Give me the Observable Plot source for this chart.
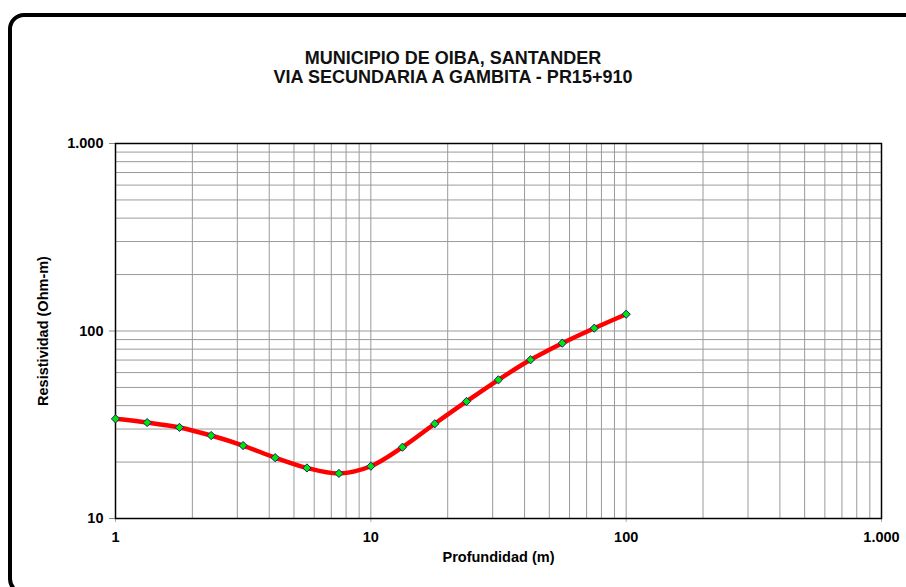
<!DOCTYPE html>
<html><head><meta charset="utf-8">
<script src="https://cdn.jsdelivr.net/npm/d3@7"></script>
<script src="https://cdn.jsdelivr.net/npm/@observablehq/plot@0.6"></script>
<style>
html,body{margin:0;padding:0;background:#fff;}
#wrap{position:relative;width:906px;height:587px;overflow:hidden;font-family:"Liberation Sans",Arial,sans-serif;}
#border{position:absolute;left:8px;top:13px;width:940px;height:582px;border:4px solid #000;border-radius:16px;box-sizing:border-box;pointer-events:none;}
#title{position:relative;padding-top:49px;text-align:center;font-size:18px;line-height:19px;font-weight:bold;color:#111;}
#chart{position:relative;}
</style></head>
<body>
<div id="wrap">
  <div id="border"></div>
  <div id="title">MUNICIPIO DE OIBA, SANTANDER<br>VIA SECUNDARIA A GAMBITA - PR15+910</div>
  <div id="chart"></div>
</div>
<script>
// Data
const depth = [1, 1.33, 1.78, 2.37, 3.16, 4.22, 5.62, 7.5, 10, 13.3, 17.8, 23.7, 31.6, 42.2, 56.2, 75, 100];
const resistivity = [34.0, 32.5, 30.6, 27.7, 24.5, 21.1, 18.6, 17.4, 19.0, 24.0, 32.0, 42.1, 54.9, 70.2, 86.1, 103.5, 122.9];

const xTicks = [1, 10, 100, 1000];
const xTickLabels = ["1", "10", "100", "1.000"];
const yTicks = [10, 100, 1000];
const yTickLabels = ["10", "100", "1.000"];

const gridMultipliers = [1, 2, 3, 4, 5, 6, 7, 8, 9];
const xDecades = [1, 10, 100];
const yDecades = [10, 100];

const xGrid = xDecades.flatMap(d => gridMultipliers.map(m => d * m)).concat([1000]);
const yGrid = yDecades.flatMap(d => gridMultipliers.map(m => d * m)).concat([1000]);

const data = depth.map((d, i) => ({d, r: resistivity[i]}));

const plot = Plot.plot({
  width: 906, height: 500,
  marginTop: 56, marginBottom: 69, marginLeft: 115, marginRight: 25,
  x: {type: "log", domain: [1, 1000]},
  y: {type: "log", domain: [10, 1000]},
  style: {fontFamily: "'Liberation Sans', Arial, sans-serif", fontSize: "14.5px", fontWeight: "bold", color: "#000", background: "transparent", overflow: "visible"},
  marks: [
    Plot.ruleX(xGrid, {stroke: "#9a9a9a", strokeWidth: 1}),
    Plot.ruleY(yGrid, {stroke: "#9a9a9a", strokeWidth: 1}),
    Plot.axisX({ticks: xTicks, tickFormat: d => xTickLabels[xTicks.indexOf(d)], tickSize: 4, tickPadding: 9, stroke: "#aaa",
      label: "Profundidad (m)", labelAnchor: "center", labelOffset: 43, labelArrow: false}),
    Plot.axisY({ticks: yTicks, tickFormat: d => yTickLabels[yTicks.indexOf(d)], tickSize: 6, tickPadding: 6, stroke: "#888",
      label: "Resistividad (Ohm-m)", labelAnchor: "center", labelOffset: 78, labelArrow: false}),
    Plot.frame({stroke: "#000", strokeWidth: 1.5}),
    Plot.line(data, {x: "d", y: "r", stroke: "#ff0000", strokeWidth: 4.5, curve: "catmull-rom"}),
    Plot.dot(data, {x: "d", y: "r", symbol: "diamond2", r: 3.7, fill: "#00e600", stroke: "#1a1a8c", strokeWidth: 1})
  ]
});
document.getElementById("chart").appendChild(plot);
</script>
</body></html>
